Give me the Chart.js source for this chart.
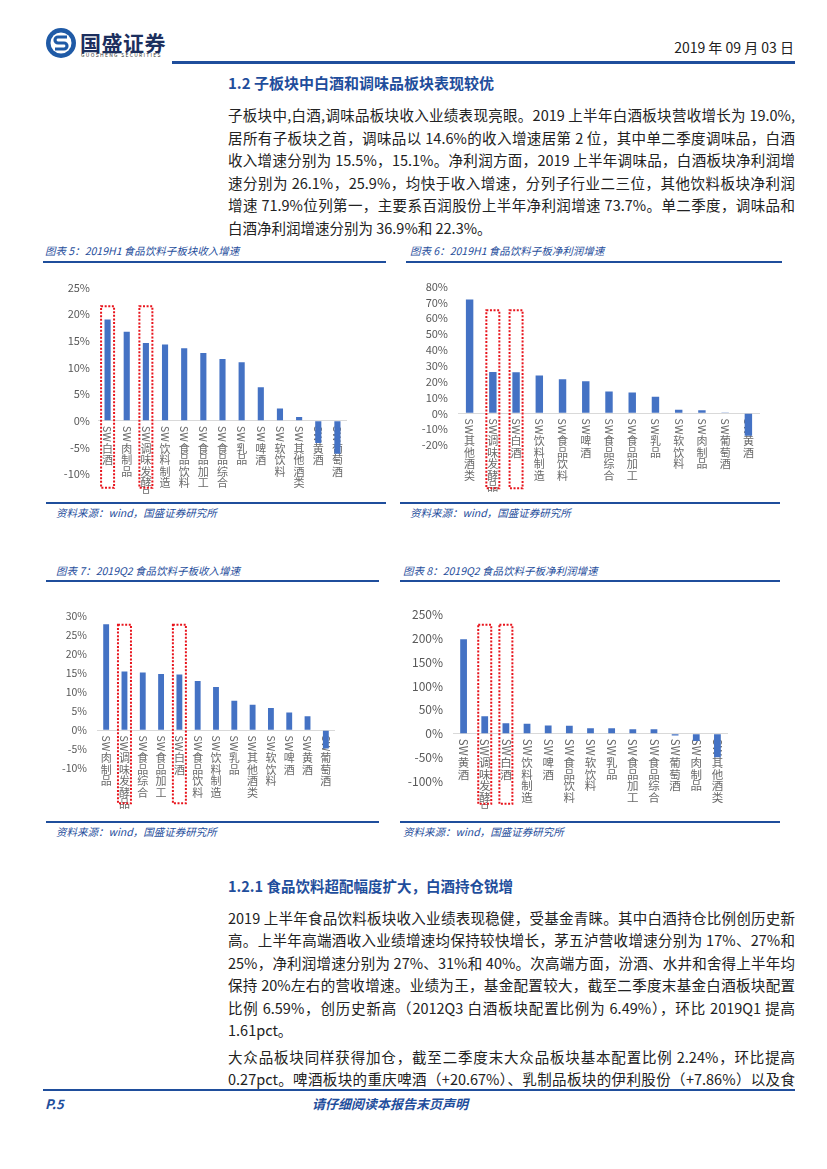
<!DOCTYPE html>
<html>
<head>
<meta charset="utf-8">
<script src="https://cdn.jsdelivr.net/npm/chart.js@4.4.1/dist/chart.umd.min.js"></script>
<style>
  body { margin: 0; background: #fff; }
  #page { position: relative; width: 827px; height: 1169px; overflow: hidden;
          font-family: "Noto Sans CJK SC", "Noto Sans", sans-serif; color: #222; }
  .abs { position: absolute; white-space: nowrap; }
  .rule { position: absolute; background: #1f4e9c; }
  .ln { position: absolute; left: 228px; width: 567px; height: 22px; line-height: 22px;
        font-size: 14.5px; white-space: nowrap; text-align: justify; text-align-last: justify; }
  .ln.last { text-align-last: left; }
  .h { position: absolute; left: 228px; color: #1f4e9c; font-weight: bold; white-space: nowrap; }
  .cap { position: absolute; font-size: 10.5px; font-style: italic; color: #1f4e9c; white-space: nowrap; }
  canvas { position: absolute; }
</style>
</head>
<body>
<div id="page">
  <!-- header -->
  <svg class="abs" style="left:44px;top:26px" width="34" height="34" viewBox="0 0 34 34">
    <circle cx="17" cy="17" r="15" fill="#1f5aa6"/>
    <circle cx="17" cy="17" r="10.5" fill="#fff"/>
    <path d="M23 11 H14 a3 3 0 0 0 0 6 H20 a3 3 0 0 1 0 6 H11" stroke="#1f5aa6" stroke-width="3.2" fill="none"/>
  </svg>
  <div class="abs" style="left:80px;top:27px;font-size:21px;font-weight:bold;color:#1c2f5e;letter-spacing:0.5px">国盛证券</div>
  <div class="abs" style="left:81px;top:51px;font-size:5px;color:#333;letter-spacing:1.3px">GUOSHENG SECURITIES</div>
  <div class="abs" style="right:33px;top:37px;font-size:14px;color:#222">2019 年 09 月 03 日</div>
  <div class="rule" style="left:172px;top:61px;width:623px;height:2.5px"></div>

  <div class="h" style="top:72px;font-size:15px">1.2 子板块中白酒和调味品板块表现较优</div>

  <div class="ln" style="top:104px">子板块中,白酒,调味品板块收入业绩表现亮眼。2019 上半年白酒板块营收增长为 19.0%,</div>
  <div class="ln" style="top:127px">居所有子板块之首，调味品以 14.6%的收入增速居第 2 位，其中单二季度调味品，白酒</div>
  <div class="ln" style="top:149px">收入增速分别为 15.5%，15.1%。净利润方面，2019 上半年调味品，白酒板块净利润增</div>
  <div class="ln" style="top:172px">速分别为 26.1%，25.9%，均快于收入增速，分列子行业二三位，其他饮料板块净利润</div>
  <div class="ln" style="top:194px">增速 71.9%位列第一，主要系百润股份上半年净利润增速 73.7%。单二季度，调味品和</div>
  <div class="ln last" style="top:217px">白酒净利润增速分别为 36.9%和 22.3%。</div>

  <!-- chart captions -->
  <div class="cap" style="left:45px;top:243px">图表 5：2019H1 食品饮料子板块收入增速</div>
  <div class="rule" style="left:43px;top:261px;width:343px;height:2px"></div>
  <div class="cap" style="left:410px;top:243px">图表 6：2019H1 食品饮料子板净利润增速</div>
  <div class="rule" style="left:406px;top:261px;width:376px;height:2px"></div>
  <div class="rule" style="left:46px;top:502px;width:340px;height:2px"></div>
  <div class="cap" style="left:56px;top:505px">资料来源：wind，国盛证券研究所</div>
  <div class="rule" style="left:400px;top:502px;width:380px;height:2px"></div>
  <div class="cap" style="left:410px;top:505px">资料来源：wind，国盛证券研究所</div>

  <div class="cap" style="left:56px;top:563px">图表 7：2019Q2 食品饮料子板收入增速</div>
  <div class="rule" style="left:46px;top:580px;width:333px;height:2px"></div>
  <div class="cap" style="left:403px;top:563px">图表 8：2019Q2 食品饮料子板净利润增速</div>
  <div class="rule" style="left:400px;top:580px;width:380px;height:2px"></div>
  <div class="rule" style="left:46px;top:821px;width:333px;height:2px"></div>
  <div class="cap" style="left:56px;top:824px">资料来源：wind，国盛证券研究所</div>
  <div class="rule" style="left:400px;top:821px;width:380px;height:2px"></div>
  <div class="cap" style="left:403px;top:824px">资料来源：wind，国盛证券研究所</div>

  <canvas id="c5" width="310" height="222" style="left:45px;top:273px"></canvas>
  <canvas id="c6" width="360" height="225" style="left:405px;top:270px"></canvas>
  <canvas id="c7" width="295" height="210" style="left:45px;top:600px"></canvas>
  <canvas id="c8" width="335" height="213" style="left:400px;top:597px"></canvas>

  <div class="h" style="top:875px;font-size:14.5px">1.2.1 食品饮料超配幅度扩大，白酒持仓锐增</div>

  <div class="ln" style="top:907px">2019 上半年食品饮料板块收入业绩表现稳健，受基金青睐。其中白酒持仓比例创历史新</div>
  <div class="ln" style="top:929px">高。上半年高端酒收入业绩增速均保持较快增长，茅五泸营收增速分别为 17%、27%和</div>
  <div class="ln" style="top:952px">25%，净利润增速分别为 27%、31%和 40%。次高端方面，汾酒、水井和舍得上半年均</div>
  <div class="ln" style="top:974px">保持 20%左右的营收增速。业绩为王，基金配置较大，截至二季度末基金白酒板块配置</div>
  <div class="ln" style="top:997px">比例 6.59%，创历史新高（2012Q3 白酒板块配置比例为 6.49%），环比 2019Q1 提高</div>
  <div class="ln last" style="top:1019px">1.61pct。</div>

  <div class="ln" style="top:1046px">大众品板块同样获得加仓，截至二季度末大众品板块基本配置比例 2.24%，环比提高</div>
  <div class="ln" style="top:1068px">0.27pct。啤酒板块的重庆啤酒（+20.67%）、乳制品板块的伊利股份（+7.86%）以及食</div>

  <!-- footer -->
  <div class="rule" style="left:43px;top:1089px;width:752px;height:2px"></div>
  <div class="abs" style="left:45px;top:1094px;font-size:13px;font-weight:bold;font-style:italic;color:#1f4e9c">P.5</div>
  <div class="abs" style="left:312px;top:1094px;font-size:13px;font-weight:bold;font-style:italic;color:#1f4e9c">请仔细阅读本报告末页声明</div>
</div>

<script>
// 图表5: 2019H1 收入增速
const h1RevCats = ['SW白酒', 'SW肉制品', 'SW调味发酵品', 'SW饮料制造', 'SW食品饮料', 'SW食品加工',
                   'SW食品综合', 'SW乳品', 'SW啤酒', 'SW软饮料', 'SW其他酒类', 'SW黄酒', 'SW葡萄酒'];
const h1RevVals = [19.0, 16.7, 14.6, 14.3, 13.6, 12.7, 11.6, 11.0, 6.3, 2.3, 0.7, -4.2, -6.2];

// 图表6: 2019H1 净利润增速
const h1NpCats = ['SW其他酒类', 'SW调味发酵品', 'SW白酒', 'SW饮料制造', 'SW食品饮料', 'SW啤酒',
                  'SW食品综合', 'SW食品加工', 'SW乳品', 'SW软饮料', 'SW肉制品', 'SW葡萄酒', 'SW黄酒'];
const h1NpVals = [71.9, 26.1, 25.9, 23.9, 21.5, 20.2, 13.8, 13.2, 10.5, 2.2, 2.0, 0.2, -14.2];

// 图表7: 2019Q2 收入增速
const q2RevCats = ['SW肉制品', 'SW调味发酵品', 'SW食品综合', 'SW食品加工', 'SW白酒', 'SW食品饮料',
                   'SW饮料制造', 'SW乳品', 'SW其他酒类', 'SW软饮料', 'SW啤酒', 'SW黄酒', 'SW葡萄酒'];
const q2RevVals = [27.9, 15.5, 15.2, 14.8, 14.7, 13.0, 11.4, 7.8, 6.7, 5.9, 4.7, 3.7, -4.8];

// 图表8: 2019Q2 净利润增速
const q2NpCats = ['SW黄酒', 'SW调味发酵品', 'SW白酒', 'SW饮料制造', 'SW啤酒', 'SW食品饮料', 'SW软饮料',
                  'SW乳品', 'SW食品加工', 'SW食品综合', 'SW葡萄酒', 'SW肉制品', 'SW其他酒类'];
const q2NpVals = [197.8, 36.9, 22.3, 21.0, 17.6, 17.0, 11.5, 11.5, 9.5, 9.5, -3.5, -15.0, -49.0];

// highlighted sectors (red dotted boxes)
const highlighted = ['SW白酒', 'SW调味发酵品'];

// vertical category labels: "SW" turned sideways, Chinese chars stacked
const swLabels = {
    id: 'swLabels',
    beforeDatasetsDraw(chart, args, o) {
        const { ctx, scales: { x, y } } = chart;
        const y0 = y.getPixelForValue(0);
        ctx.save();
        ctx.fillStyle = '#6a6a6a';
        ctx.font = o.size + 'px "Noto Sans CJK SC"';
        ctx.textAlign = 'center';
        ctx.textBaseline = 'middle';
        chart.data.labels.forEach((lab, i) => {
            const cx = x.getPixelForValue(i);
            let yy = y0 + 5;
            const head = lab.slice(0, 2);
            const w = ctx.measureText(head).width;
            ctx.save();
            ctx.translate(cx, yy + w / 2);
            ctx.rotate(Math.PI / 2);
            ctx.fillText(head, 0, 0);
            ctx.restore();
            yy += w + 1;
            for (const ch of lab.slice(2)) {
                ctx.fillText(ch, cx, yy + o.pitch / 2);
                yy += o.pitch;
            }
        });
        ctx.restore();
    },
    afterDatasetsDraw(chart, args, o) {
        const { ctx, scales: { x, y } } = chart;
        const y0 = y.getPixelForValue(0);
        ctx.save();
        ctx.strokeStyle = '#e8141c';
        ctx.lineWidth = 2;
        ctx.setLineDash([2, 1.6]);
        highlighted.forEach(name => {
            const i = chart.data.labels.indexOf(name);
            if (i < 0) return;
            const cx = x.getPixelForValue(i);
            const top = y.getPixelForValue(o.boxTop);
            ctx.strokeRect(cx - 6.5, top, 13, y0 + o.boxBelow - top);
        });
        ctx.restore();
    }
};

function makeChart(id, cats, vals, cfg) {
    const ctx = document.getElementById(id).getContext('2d');
    return new Chart(ctx, {
        type: 'bar',
        data: {
            labels: cats,
            datasets: [{
                data: vals,
                backgroundColor: '#4472c4',
                categoryPercentage: 1,
                barPercentage: 0.32
            }]
        },
        options: {
            responsive: false,
            animation: false,
            layout: { padding: cfg.padding },
            plugins: {
                legend: { display: false },
                tooltip: { enabled: false },
                swLabels: { size: cfg.labelSize, pitch: cfg.pitch, boxTop: cfg.boxTop, boxBelow: cfg.boxBelow }
            },
            scales: {
                x: { display: false },
                y: {
                    min: cfg.min,
                    max: cfg.max,
                    afterFit: s => { s.width = cfg.axisWidth; },
                    border: { display: false },
                    grid: {
                        drawTicks: false,
                        color: c => c.tick.value === 0 ? '#d9d9d9' : 'transparent',
                        lineWidth: 1
                    },
                    ticks: {
                        stepSize: cfg.step,
                        autoSkip: false,
                        padding: cfg.tickPad,
                        color: '#595959',
                        font: { family: '"Noto Sans CJK SC"', size: cfg.tickSize },
                        callback: v => v + '%'
                    }
                }
            }
        },
        plugins: [swLabels]
    });
}

makeChart('c5', h1RevCats, h1RevVals, {
    min: -10, max: 25, step: 5, axisWidth: 53, tickPad: 8, tickSize: 11,
    padding: { top: 10, bottom: 21, right: 8, left: 0 },
    labelSize: 11, pitch: 11.5, boxTop: 21.5, boxBelow: 67
});
makeChart('c6', h1NpCats, h1NpVals, {
    min: -20, max: 80, step: 10, axisWidth: 53, tickPad: 10, tickSize: 11,
    padding: { top: 10, bottom: 50, right: 5, left: 0 },
    labelSize: 11, pitch: 11.5, boxTop: 65, boxBelow: 75
});
makeChart('c7', q2RevCats, q2RevVals, {
    min: -10, max: 30, step: 5, axisWidth: 52, tickPad: 10, tickSize: 10.5,
    padding: { top: 10.7, bottom: 41.7, right: 5, left: 0 },
    labelSize: 11, pitch: 11.5, boxTop: 27.8, boxBelow: 73
});
makeChart('c8', q2NpCats, q2NpVals, {
    min: -100, max: 250, step: 50, axisWidth: 53, tickPad: 10, tickSize: 12,
    padding: { top: 10.7, bottom: 28.3, right: 7, left: 0 },
    labelSize: 11.5, pitch: 11.7, boxTop: 228, boxBelow: 70
});
</script>
</body>
</html>
